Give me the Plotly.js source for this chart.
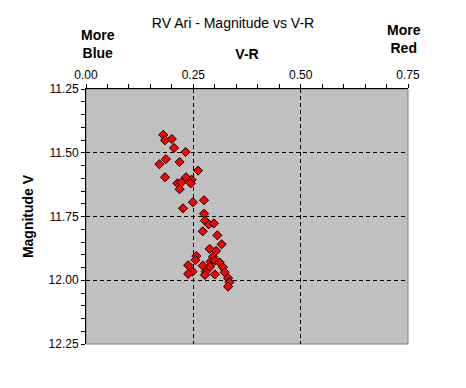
<!DOCTYPE html>
<html>
<head>
<meta charset="utf-8">
<script src="https://cdn.plot.ly/plotly-3.0.1.min.js"></script>
<style>html,body{margin:0;padding:0;background:#fff;}#chart{width:466px;height:388px;}</style>
</head>
<body>
<div id="chart"></div>
<script>
// V-R colour index of each observation
var vrValues = [0.180, 0.184, 0.200, 0.205, 0.232, 0.186, 0.171, 0.218, 0.261, 0.184,
  0.233, 0.246, 0.244, 0.213, 0.222, 0.218, 0.226, 0.249, 0.275, 0.275,
  0.277, 0.286, 0.298, 0.272, 0.306, 0.316, 0.303, 0.288, 0.257, 0.255,
  0.238, 0.296, 0.290, 0.300, 0.311, 0.272, 0.289, 0.248, 0.238, 0.279,
  0.277, 0.300, 0.319, 0.323, 0.331, 0.334, 0.331];
// V magnitude of each observation
var magValues = [11.430, 11.451, 11.446, 11.481, 11.497, 11.525, 11.545, 11.536, 11.570, 11.596,
  11.596, 11.606, 11.620, 11.620, 11.617, 11.643, 11.718, 11.694, 11.686, 11.739,
  11.766, 11.781, 11.777, 11.808, 11.824, 11.859, 11.885, 11.877, 11.905, 11.921,
  11.941, 11.908, 11.927, 11.923, 11.930, 11.943, 11.947, 11.966, 11.975, 11.966,
  11.979, 11.977, 11.949, 11.969, 11.992, 12.008, 12.025];

var xTickVals = [0, 0.25, 0.5, 0.75];
var xTickText = ['0.00', '0.25', '0.50', '0.75'];
var yTickVals = [11.25, 11.5, 11.75, 12.0, 12.25];
var yTickText = ['11.25', '11.50', '11.75', '12.00', '12.25'];

var FONT = '"Liberation Sans", Arial, sans-serif';

var trace = {
  x: vrValues,
  y: magValues,
  type: 'scatter',
  mode: 'markers',
  marker: {symbol: 'diamond', size: 7, color: '#FF0000', line: {color: '#000000', width: 1}},
  hoverinfo: 'skip'
};

var layout = {
  width: 466,
  height: 388,
  margin: {l: 86, r: 58, t: 89, b: 44},
  paper_bgcolor: '#FFFFFF',
  plot_bgcolor: '#C0C0C0',
  showlegend: false,
  font: {family: FONT, size: 12, color: '#000'},
  title: {
    text: 'RV Ari - Magnitude vs V-R',
    font: {family: FONT, size: 14, color: '#000'},
    xref: 'container', x: 0.5, xanchor: 'center',
    yref: 'container', y: 1 - 23.5 / 388, yanchor: 'middle'
  },
  xaxis: {
    side: 'top',
    range: [0, 0.75],
    tickvals: xTickVals,
    ticktext: xTickText,
    ticks: 'outside', ticklen: 4, tickcolor: '#000', tickwidth: 1,
    minor: {dtick: 0.05, tick0: 0, ticks: 'outside', ticklen: 4, tickcolor: '#000', showgrid: false},
    showline: true, linecolor: '#000', linewidth: 1,
    showgrid: true, gridcolor: '#000', gridwidth: 1, griddash: '4px,3px',
    zeroline: false,
    tickfont: {family: FONT, size: 12, color: '#000'},
    title: {text: '<b>V-R</b>', font: {family: FONT, size: 14, color: '#000'}, standoff: 5},
    automargin: false,
    fixedrange: true
  },
  yaxis: {
    range: [12.25, 11.25],
    tickvals: yTickVals,
    ticktext: yTickText,
    ticks: 'outside', ticklen: 4, tickcolor: '#000', tickwidth: 1,
    minor: {dtick: 0.05, tick0: 11.25, ticks: 'outside', ticklen: 4, tickcolor: '#000', showgrid: false},
    showline: true, linecolor: '#000', linewidth: 1,
    showgrid: true, gridcolor: '#000', gridwidth: 1, griddash: '4px,3px',
    zeroline: false,
    tickfont: {family: FONT, size: 12, color: '#000'},
    title: {text: '<b>Magnitude V</b>', font: {family: FONT, size: 14, color: '#000'}, standoff: 11},
    automargin: false,
    fixedrange: true
  },
  shapes: [{
    type: 'rect', xref: 'paper', yref: 'paper', x0: 0, x1: 1, y0: 0, y1: 1,
    line: {color: '#808080', width: 1}, layer: 'below'
  }],
  annotations: [
    {text: '<b>More<br>Blue</b>', xref: 'paper', yref: 'paper', x: 0.036, y: 1.175,
     xanchor: 'center', yanchor: 'middle', showarrow: false,
     font: {family: FONT, size: 14, color: '#000'}},
    {text: '<b>More<br>Red</b>', xref: 'paper', yref: 'paper', x: 0.9876, y: 1.198,
     xanchor: 'center', yanchor: 'middle', showarrow: false,
     font: {family: FONT, size: 14, color: '#000'}}
  ]
};

Plotly.newPlot('chart', [trace], layout, {displayModeBar: false, staticPlot: true});
</script>
</body>
</html>
